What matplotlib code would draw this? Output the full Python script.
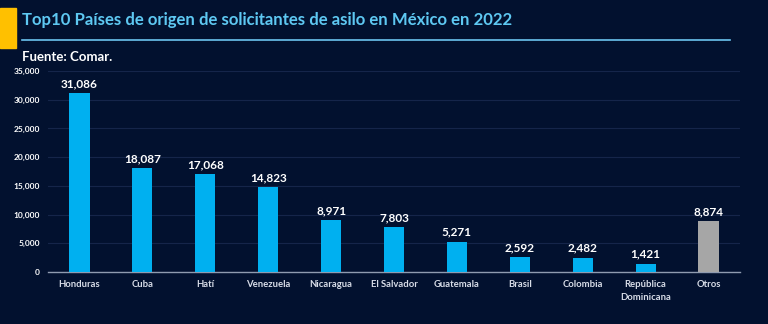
import matplotlib
matplotlib.use("Agg")
import matplotlib.pyplot as plt
from matplotlib.patches import Rectangle
from matplotlib.lines import Line2D

BG = "#02112f"
BLUE = "#00b0f0"
GREYBAR = "#a6a6a6"
TITLE = "#5ec8f2"

countries = ["Honduras", "Cuba", "Hatí", "Venezuela", "Nicaragua", "El Salvador",
             "Guatemala", "Brasil", "Colombia", "República\nDominicana", "Otros"]
requests = [31086, 18087, 17068, 14823, 8971, 7803, 5271, 2592, 2482, 1421, 8874]
yticks = [0, 5000, 10000, 15000, 20000, 25000, 30000, 35000]

plt.rcParams["font.family"] = ["Lato", "DejaVu Sans"]

W, H = 768, 324
fig = plt.figure(figsize=(W / 100, H / 100), dpi=100, facecolor=BG)

# header decorations
fig.patches.append(Rectangle((0, 1 - 48 / H), 16 / W, 40 / H, transform=fig.transFigure,
                             color="#ffc000", zorder=2))
fig.add_artist(Line2D([22 / W, 730 / W], [1 - 40 / H, 1 - 40 / H], color="#6cc4f0", lw=1.2))
fig.text(22 / W, 1 - 20 / H, "Top10 Países de origen de solicitantes de asilo en México en 2022",
         color=TITLE, fontsize=12.1, fontweight="bold", va="center", ha="left")
fig.text(22 / W, 1 - 57 / H, "Fuente: Comar.", color="white", fontsize=9.5,
         fontweight="bold", va="center", ha="left")

ax = fig.add_axes([48 / W, 1 - 272 / H, (740 - 48) / W, (272 - 71) / H])
ax.set_facecolor(BG)
x = range(len(countries))
colors = [BLUE] * (len(countries) - 1) + [GREYBAR]
bars = ax.bar(x, requests, width=0.32, color=colors, zorder=3)
for b, v in zip(bars, requests):
    ax.text(b.get_x() + b.get_width() / 2, v + 700, f"{v:,}", ha="center", va="bottom",
            color="white", fontsize=8.5, fontweight="bold")

ax.set_xlim(-0.5, len(countries) - 0.5)
ax.set_ylim(0, 35000)
ax.set_yticks(yticks)
ax.set_yticklabels([f"{t:,}" for t in yticks], fontsize=6, fontweight="bold", color="white")
ax.set_xticks(list(x))
ax.set_xticklabels(countries, fontsize=6.8, fontweight="bold", color="#d8dde8",
                   linespacing=1.5)
ax.tick_params(axis="both", length=0, pad=6)
ax.grid(axis="y", color="#15254a", lw=0.8, zorder=0)
for s in ["top", "right", "left"]:
    ax.spines[s].set_visible(False)
ax.spines["bottom"].set_color("#8f9bb0")
ax.spines["bottom"].set_linewidth(1)

fig.savefig("out.png", dpi=100, facecolor=BG)
